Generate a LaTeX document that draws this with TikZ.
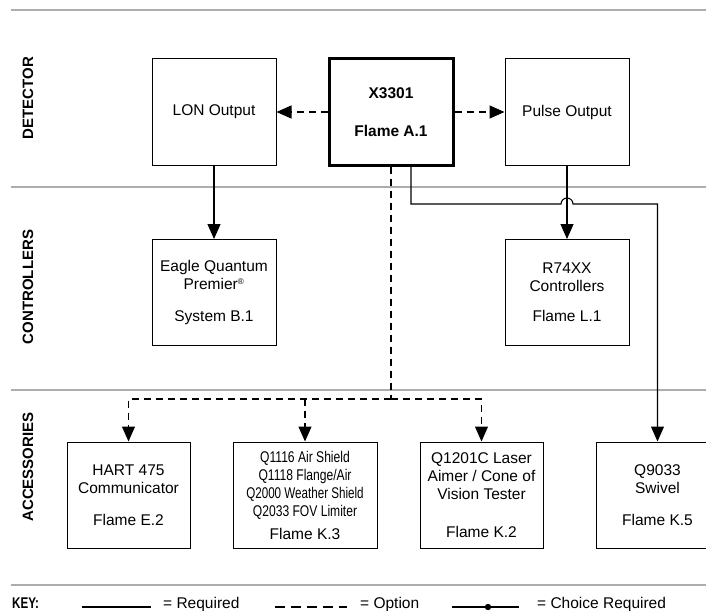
\documentclass[tikz,border=0pt]{standalone}
\usepackage{fontspec}
\setmainfont{Liberation Sans}
\usetikzlibrary{arrows.meta,calc}

\tikzset{
  blk/.style={draw, line width=1pt, minimum width=124pt, minimum height=106pt,
    align=center, inner sep=0pt},
  mainblk/.style={blk, line width=3pt, font=\fontsize{15.5}{18}\selectfont\bfseries},
  req/.style={line width=1.1pt},
  opt/.style={line width=1.1pt, dash pattern=on 7pt off 5pt},
  tip/.style={-{Triangle[length=15pt,width=13pt]}},
  rule/.style={draw=black!32, line width=1.5pt},
  sect/.style={rotate=90, font=\fontsize{15}{18}\selectfont\bfseries},
  keytxt/.style={anchor=base west, inner sep=0pt},
}

\begin{document}
\begin{tikzpicture}[x=1pt,y=-1pt,font=\fontsize{15.5}{18}\selectfont]
\useasboundingbox (0,0) rectangle (706,610);
\clip (0,0) rectangle (706,610);

% section rules
\foreach \y in {10,187,390,585}
  \draw[rule] (11,\y) -- (706,\y);

% section labels
\node[sect] (detlbl) at (28,98) {DETECTOR};
\node[sect] (ctllbl) at (28,287) {CONTROLLERS};
\node[sect] (acclbl) at (28,467) {ACCESSORIES};

% detector
\node[mainblk] (x3301) at (391,112) {X3301\\[20pt]Flame A.1};
\node[blk] (lon) at (214,112) {LON Output};
\node[blk] (pulse) at (567,112) {Pulse Output};

% controllers
\node[blk] (eagle) at (214,292.5) {Eagle Quantum\\Premier\textsuperscript{\scalebox{.75}{®}}\\[14pt]System B.1};
\node[blk] (r74xx) at (567,292.5) {R74XX\\Controllers\\[12pt]Flame L.1};

% accessories
\node[blk, minimum width=123pt] (hart) at (128.5,495) {HART 475\\Communicator\\[14pt]Flame E.2};
\node[blk, minimum width=144pt] (q1116) at (305,495) {\scalebox{.78}[1]{Q1116 Air Shield}\\
  \scalebox{.78}[1]{Q1118 Flange/Air}\\\scalebox{.75}[1]{Q2000 Weather Shield}\\
  \scalebox{.78}[1]{Q2033 FOV Limiter}\\[5pt]Flame K.3};
\node[blk, minimum width=123pt] (q1201) at (481.5,495) {Q1201C Laser\\Aimer / Cone of\\Vision Tester\\[20pt]Flame K.2};
\node[blk, minimum width=123pt] (q9033) at (657.5,495) {Q9033\\Swivel\\[14pt]Flame K.5};

% connectors
\draw[opt,tip] (x3301.west) -- (lon.east);
\draw[opt,tip] (x3301.east) -- (pulse.west);
\draw[req,tip] (lon.south) -- (eagle.north);
\draw[req,tip] (pulse.south) -- (r74xx.north);

% swivel line, hops over the pulse line
\coordinate (bend) at (411,204);
\draw[req,tip] (x3301.south -| bend) -- (bend)
  -- ($(r74xx.north |- bend)+(-6,0)$) arc[start angle=180,end angle=0,radius=6pt]
  -- (q9033.north |- bend) -- (q9033.north);

% options
\coordinate (split) at (391,399);
\draw[opt] (x3301.south) -- (split);
\draw[opt,tip] (split) -| (hart.north);
\draw[opt,tip] (split) -| (q1201.north);
\draw[opt,tip] (q1116.north |- split) -- (q1116.north);

% key
\node[keytxt, font=\fontsize{15.5}{18}\selectfont\bfseries] (key) at (12,608) {\scalebox{.75}[1]{KEY:}};
\node[keytxt] (reqtxt) at (163,608) {= Required};
\node[keytxt] (opttxt) at (360,608) {= Option};
\node[keytxt] (chotxt) at (537,608) {= Choice Required};
\coordinate (reqa) at (82,607);
\coordinate (reqb) at (151,607);
\coordinate (opta) at (275,607);
\coordinate (optb) at (347,607);
\coordinate (choa) at (452,607);
\coordinate (chob) at (519,607);
\coordinate (chodot) at (488,607);
\draw[req] (reqa) -- (reqb);
\draw[line width=1.1pt, dash pattern=on 10pt off 6pt] (opta) -- (optb);
\draw[req] (choa) -- (chob);
\fill (chodot) circle (3.2pt);
\end{tikzpicture}
\end{document}
